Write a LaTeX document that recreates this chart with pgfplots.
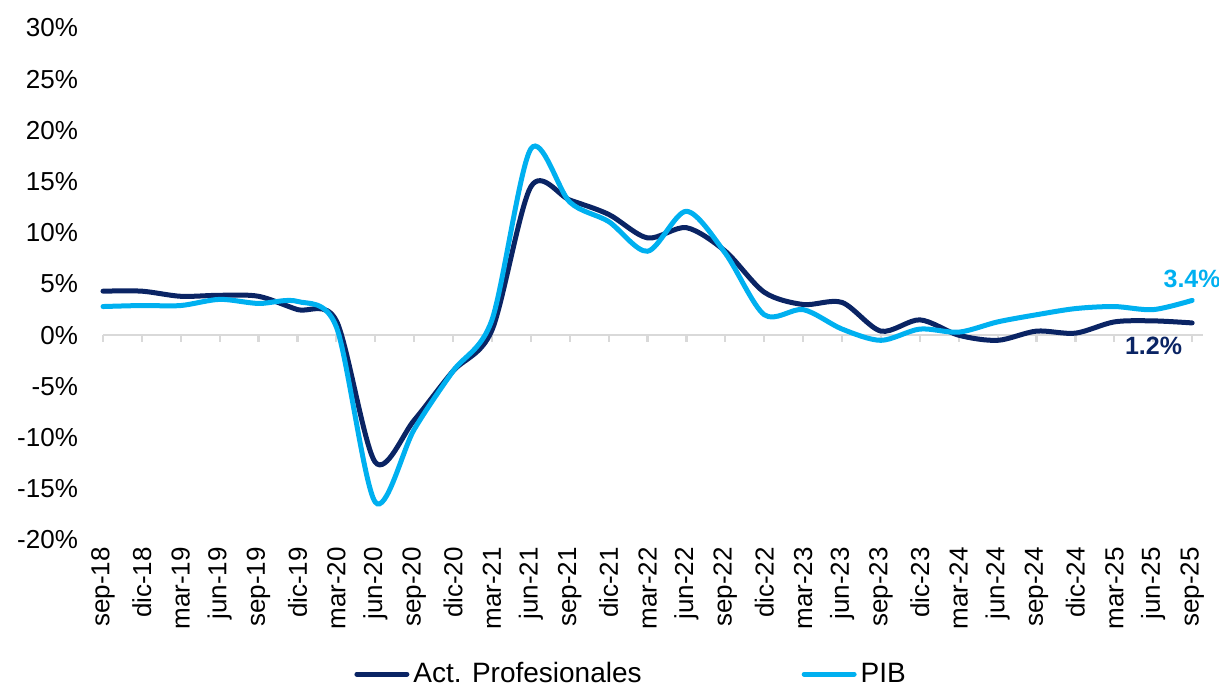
\documentclass[border=0pt]{standalone}
\usepackage{pgfplots}
\pgfplotsset{compat=1.18}
\usepackage{fontspec}
\setmainfont{Liberation Sans}

\definecolor{navy}{HTML}{0A2464}
\definecolor{sky}{HTML}{00B0F0}
\definecolor{zeroline}{HTML}{D9D9D9}

\begin{document}
\begin{tikzpicture}
\useasboundingbox (-51.5pt,-76.5pt) rectangle (558pt,270pt);
\begin{axis}[
  at={(0,0)}, anchor=south west,
  scale only axis,
  width=550pt, height=256pt,
  xmin=0, xmax=28.28,
  ymin=-20, ymax=30,
  clip=false,
  axis x line*=bottom,
  axis y line*=left,
  x axis line style={draw=none},
  y axis line style={draw=none},
  xtick={0,...,28},
  xticklabels={sep-18,dic-18,mar-19,jun-19,sep-19,dic-19,mar-20,jun-20,sep-20,dic-20,mar-21,jun-21,sep-21,dic-21,mar-22,jun-22,sep-22,dic-22,mar-23,jun-23,sep-23,dic-23,mar-24,jun-24,sep-24,dic-24,mar-25,jun-25,sep-25},
  xticklabel style={rotate=90, anchor=east, font=\fontsize{13}{15}\selectfont},
  ytick={-20,-15,...,30},
  yticklabels={-20\%,-15\%,-10\%,-5\%,0\%,5\%,10\%,15\%,20\%,25\%,30\%},
  yticklabel style={font=\fontsize{13}{15}\selectfont, xshift=-9pt},
  major tick style={draw=none},
  legend columns=2,
  legend style={
    at={(0.481,-0.262)}, anchor=center,
    draw=none, fill=none,
    font=\fontsize{14}{16}\selectfont,
    /tikz/every even column/.append style={column sep=78pt},
    inner sep=0pt,
  },
  legend image code/.code={\draw[#1, line cap=round] (0pt,0pt) -- (25pt,0pt);},
]
% zero line with category tick marks
\draw[zeroline, line width=1.1pt] (axis cs:0,0) -- (axis cs:28.28,0);
\pgfplotsinvokeforeach{0,...,28}{
  \draw[zeroline, line width=1.1pt] (axis cs:#1,0) -- ++(0pt,-3.5pt);
}

\addplot[navy, line width=2.5pt, smooth, line cap=round] coordinates {
  (0,4.3) (1,4.3) (2,3.8) (3,3.9) (4,3.8) (5,2.5) (6,1.4) (7,-12.4)
  (8,-8.3) (9,-3.5) (10,0.5) (11,14.5) (12,13.2) (13,11.8) (14,9.5)
  (15,10.5) (16,8.2) (17,4.2) (18,3.0) (19,3.2) (20,0.4) (21,1.5)
  (22,0.0) (23,-0.5) (24,0.4) (25,0.2) (26,1.3) (27,1.4) (28,1.2)
};
\addlegendentry{Act. Profesionales}

\addplot[sky, line width=2.5pt, smooth, line cap=round] coordinates {
  (0,2.8) (1,2.9) (2,2.9) (3,3.5) (4,3.1) (5,3.3) (6,0.8) (7,-16.3)
  (8,-9.2) (9,-3.5) (10,1.5) (11,18.2) (12,13.0) (13,11.1) (14,8.2)
  (15,12.1) (16,8.0) (17,2.0) (18,2.5) (19,0.6) (20,-0.5) (21,0.6)
  (22,0.3) (23,1.3) (24,2.0) (25,2.6) (26,2.8) (27,2.5) (28,3.4)
};
\addlegendentry{PIB}

% end-point value labels
\node[anchor=south, text=sky, font=\fontsize{12.5}{14}\selectfont\bfseries, yshift=3pt] at (axis cs:28,3.4) {3.4\%};
\node[anchor=north east, text=navy, font=\fontsize{12.5}{14}\selectfont\bfseries, xshift=-1.5pt, yshift=-3.5pt] at (axis cs:28,1.2) {1.2\%};
\end{axis}
\end{tikzpicture}
\end{document}
